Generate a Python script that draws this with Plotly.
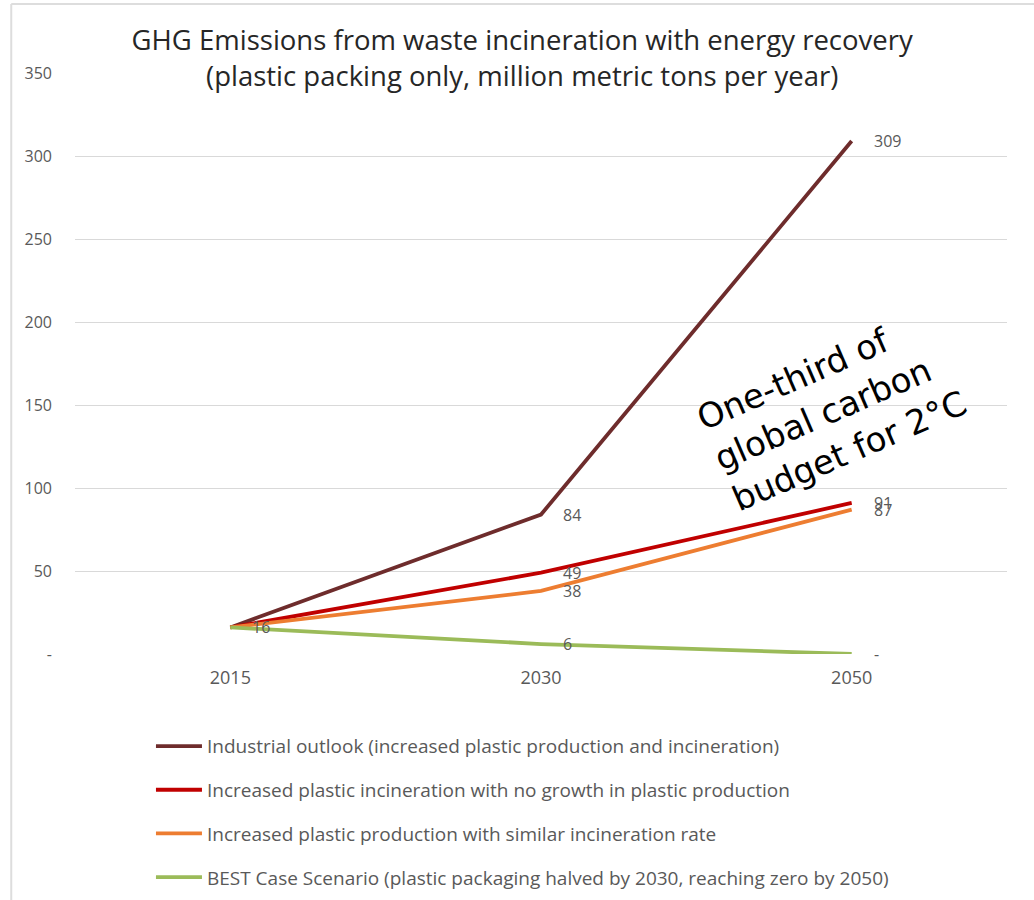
import plotly.graph_objects as go

years = ["2015", "2030", "2050"]
industrial = [16, 84, 309]
no_growth = [16, 49, 91]
similar_rate = [16, 38, 87]
best_case = [16, 6, 0]

series_names = [
    "Industrial outlook (increased plastic production and incineration)",
    "Increased plastic incineration with no growth in plastic production",
    "Increased plastic production with similar incineration rate",
    "BEST Case Scenario (plastic packaging halved by 2030, reaching zero by 2050)",
]
series_values = [industrial, no_growth, similar_rate, best_case]
series_colors = ["#6E2C2C", "#C00000", "#ED7D31", "#9BBB59"]

y_ticks = [0, 50, 100, 150, 200, 250, 300, 350]
y_ticktext = ["-", "50", "100", "150", "200", "250", "300", "350"]

# which point labels are shown (series index, year index); 2015 value shown once
label_points = [
    (0, 0), (0, 1), (0, 2),
    (1, 1), (1, 2),
    (2, 1), (2, 2),
    (3, 1), (3, 2),
]

fig = go.Figure()
for name, vals, col in zip(series_names, series_values, series_colors):
    fig.add_trace(go.Scatter(
        x=years, y=vals, mode="lines", name=name,
        line=dict(color=col, width=3.8),
        legendgroup=name,
        hoverinfo="skip",
    ))

label_font = dict(family="Open Sans, sans-serif", size=16, color="#595959")
for si, pi in label_points:
    v = series_values[si][pi]
    fig.add_annotation(
        x=pi, y=v, xref="x", yref="y",
        text="-" if v == 0 else str(v),
        showarrow=False, xanchor="left", yanchor="middle",
        xshift=20, font=label_font,
    )

fig.add_annotation(
    x=0.812, y=0.42, xref="paper", yref="paper",
    xanchor="center", yanchor="middle",
    text="One-third of<br>global carbon<br>budget for 2°C",
    showarrow=False, align="left", textangle=-23.5,
    font=dict(family="DejaVu Sans, Verdana, sans-serif", size=34, color="#000000"),
)

# outer frame lines of the chart image
fig.add_shape(type="line", xref="paper", yref="paper",
              x0=-0.0684, x1=-0.0684, y0=-0.43, y1=1.1188,
              line=dict(color="#dddddd", width=2))
fig.add_shape(type="line", xref="paper", yref="paper",
              x0=-0.0684, x1=1.03, y0=1.1188, y1=1.1188,
              line=dict(color="#dddddd", width=2))

fig.update_layout(
    width=1034, height=900,
    margin=dict(l=75, r=27, t=73, b=246, autoexpand=False),
    paper_bgcolor="white", plot_bgcolor="white",
    font=dict(family="Open Sans, sans-serif", color="#595959"),
    title=dict(
        text="GHG Emissions from waste incineration with energy recovery<br>(plastic packing only, million metric tons per year)",
        x=0.505, xanchor="center", y=0.944, yanchor="top",
        font=dict(family="Open Sans, sans-serif", size=27.5, color="#262626"),
    ),
    xaxis=dict(
        type="category", range=[-0.5, 2.5], showgrid=False, zeroline=False,
        showline=False, ticks="", tickfont=dict(size=18, color="#595959"),
        ticklabelstandoff=11,
    ),
    yaxis=dict(
        range=[0, 350], tickvals=y_ticks, ticktext=y_ticktext,
        showgrid=True, gridcolor="#d9d9d9", gridwidth=1, zeroline=False,
        showline=False, ticks="", tickfont=dict(size=16, color="#595959"),
        ticklabelstandoff=22,
    ),
    showlegend=True,
    legend=dict(
        xref="container", yref="container",
        x=0.146, y=0.192, xanchor="left", yanchor="top",
        orientation="v", tracegroupgap=16, itemwidth=46,
        font=dict(family="Open Sans, sans-serif", size=19, color="#595959"),
        bgcolor="rgba(0,0,0,0)",
    ),
)

fig.write_html("out.html")
